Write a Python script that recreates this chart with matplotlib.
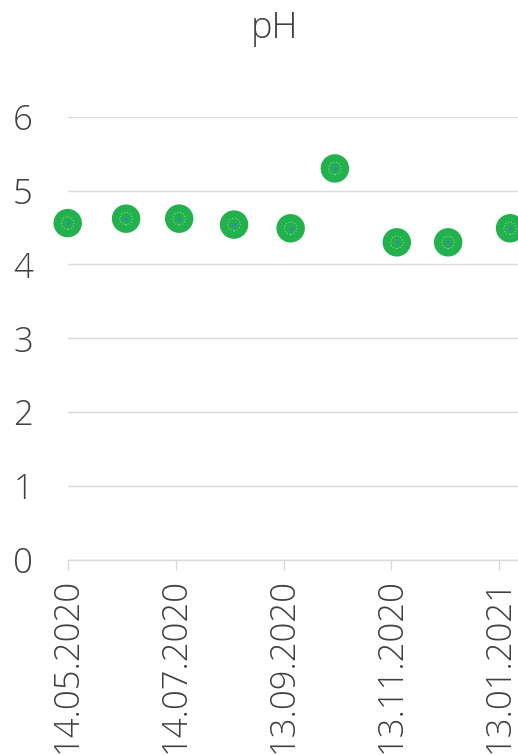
import matplotlib
matplotlib.use('Agg')
import matplotlib.pyplot as plt
import matplotlib.dates as mdates
import numpy as np
from datetime import datetime

# sampling dates and measured pH
dates = ['14.05.2020', '16.06.2020', '16.07.2020', '16.08.2020', '17.09.2020',
         '12.10.2020', '16.11.2020', '15.12.2020', '19.01.2021']
ph = [4.56, 4.62, 4.62, 4.54, 4.49, 5.30, 4.30, 4.30, 4.49]
tick_dates = ['14.05.2020', '14.07.2020', '13.09.2020', '13.11.2020', '13.01.2021']
y_ticks = [0, 1, 2, 3, 4, 5, 6]

to_dt = lambda s: datetime.strptime(s, '%d.%m.%Y')
x = [to_dt(d) for d in dates]
xt = [to_dt(d) for d in tick_dates]

plt.rcParams['font.family'] = ['Open Sans', 'DejaVu Sans']
plt.rcParams['font.weight'] = 'light'
text_col = '#404040'
grid_col = '#d9d9d9'
green = '#22b14c'

fig = plt.figure(figsize=(5.18, 7.55), dpi=100)
ax = fig.add_axes([0.1307, 0.2583, 0.8693, 0.5871])

ax.scatter(x, ph, s=20.5 ** 2, color=green, edgecolors='none', zorder=3, clip_on=False)
ax.scatter(x, ph, s=9 ** 2, facecolors='none', edgecolors='#7fd69a', linewidths=0.8,
           linestyle=':', zorder=4, clip_on=False)
ax.scatter(x, ph, s=2, color='#3f7fd0', zorder=5, clip_on=False)

ax.set_ylim(0, 6)
ax.set_yticks(y_ticks)
ax.set_xlim(to_dt('14.05.2020'), datetime(2021, 1, 23, 12))
ax.set_xticks(xt)
ax.xaxis.set_major_formatter(mdates.DateFormatter('%d.%m.%Y'))

ax.grid(axis='y', color=grid_col, linewidth=1)
ax.set_axisbelow(True)
for side in ['top', 'right', 'left']:
    ax.spines[side].set_visible(False)
ax.spines['bottom'].set_color(grid_col)
ax.spines['bottom'].set_linewidth(1)

ax.tick_params(axis='y', length=0, pad=25, labelsize=25, labelcolor=text_col)
ax.tick_params(axis='x', length=7, width=1, color=grid_col, pad=6,
               labelsize=25, labelcolor=text_col, labelrotation=90)

fig.text(275 / 518, 1 - 38 / 755, 'pH', ha='center', va='baseline',
         fontsize=26, color=text_col)

fig.savefig('out.png', dpi=100)
